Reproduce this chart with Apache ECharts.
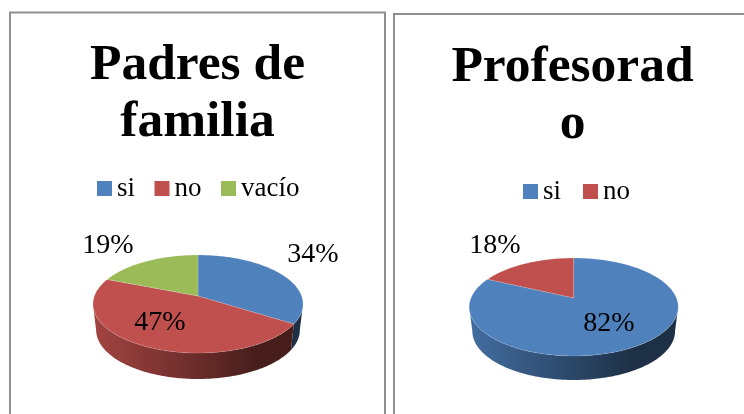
<!DOCTYPE html>
<html>
<head>
<meta charset="utf-8">
<style>html,body{margin:0;padding:0;background:#fff}#c{width:744px;height:414px}</style>
<script src="https://cdn.jsdelivr.net/npm/echarts@6/dist/echarts.min.js"></script>
</head>
<body>
<div id="c"></div>
<script>
var padresTitle = 'Padres de\nfamilia';
var padresCategories = ['si', 'no', 'vacío'];
var padresValues = [34, 47, 19];
var profesoradoTitle = 'Profesorad\no';
var profesoradoCategories = ['si', 'no'];
var profesoradoValues = [82, 18];
var sliceColors = {si: '#4f81bd', no: '#c0504d', 'vacío': '#9bbb59'};

var FONT = '"Liberation Serif", serif';
var padresLayout = {cx: 198, cy: 304, rx: 105, ry: 49, tilt: 8 / 49, depth: 26,
  labels: [[313, 255], [160, 323], [108, 246]]};
var profesoradoLayout = {cx: 573.7, cy: 307, rx: 104.5, ry: 49, tilt: 9 / 49, depth: 24,
  labels: [[609, 324], [495, 246]]};

function shade(hex, f) {
  var n = parseInt(hex.slice(1), 16);
  return 'rgb(' + Math.round((n >> 16) * f) + ',' + Math.round(((n >> 8) & 255) * f) + ',' + Math.round((n & 255) * f) + ')';
}
// Circle seen in perspective: unit-circle angle to a point of the drawn ellipse.
function project(theta, k) {
  var x = Math.sin(theta), y = Math.cos(theta), d = 1 + k * y;
  return [x * Math.sqrt(1 - k * k) / d, (y + k) / d];
}

function pieSeries(categories, values, L) {
  var total = values.reduce(function (a, b) { return a + b; }, 0);
  var acc = 0;
  return categories.map(function (name, i) {
    var startValue = acc;
    acc += values[i];
    var color = sliceColors[name];
    return {
      type: 'custom', name: name, coordinateSystem: 'none', silent: true, animation: false,
      itemStyle: {color: color},
      data: [[values[i]]],
      renderItem: function (params, api) {
        var v = api.value(0);
        var a0 = startValue / total * 2 * Math.PI, a1 = (startValue + v) / total * 2 * Math.PI;
        var steps = Math.max(2, Math.ceil((a1 - a0) / (Math.PI / 180)));
        var apex = [L.cx, L.cy - L.ry * L.tilt];
        var top = [apex], wallTop = [], wallBottom = [];
        for (var s = 0; s <= steps; s++) {
          var p = project(a0 + (a1 - a0) * s / steps, L.tilt);
          top.push([L.cx + L.rx * p[0], L.cy - L.ry * p[1]]);
          if (p[1] <= 0) {
            wallTop.push([L.cx + L.rx * p[0], L.cy - L.ry * p[1]]);
            wallBottom.unshift([L.cx + L.rx * 0.97 * p[0], L.cy + L.depth - L.ry * p[1]]);
          }
        }
        var children = [];
        if (wallTop.length > 1) {
          children.push({
            type: 'polygon', z2: 1,
            shape: {points: wallTop.concat(wallBottom)},
            style: {
              fill: new echarts.graphic.LinearGradient(L.cx - L.rx, 0, L.cx + L.rx, 0, [
                {offset: 0, color: shade(color, 0.85)},
                {offset: 0.5, color: shade(color, 0.55)},
                {offset: 0.78, color: shade(color, 0.37)},
                {offset: 1, color: shade(color, 0.37)}
              ], true)
            }
          });
        }
        children.push({type: 'polygon', z2: 2, shape: {points: top},
          style: {fill: color, stroke: 'rgba(255,255,255,0.25)', lineWidth: 0.6}});
        children.push({type: 'text', z2: 10, x: L.labels[i][0], y: L.labels[i][1],
          style: {text: v + '%', fill: '#000', font: '28px ' + FONT, align: 'center', verticalAlign: 'middle'}});
        return {type: 'group', children: children};
      }
    };
  });
}

function titleOf(text, x, top) {
  return {text: text, left: x, top: top, textAlign: 'center', padding: 0,
    textStyle: {fontFamily: FONT, fontWeight: 'bold', fontSize: 51.5, lineHeight: 57, color: '#000'}};
}
function legendOf(names, left, top, gap) {
  return {data: names, left: left, top: top, orient: 'horizontal', icon: 'rect', padding: 0,
    itemWidth: 15, itemHeight: 15, itemGap: gap, selectedMode: false,
    textStyle: {fontFamily: FONT, fontSize: 27, color: '#000'}};
}

var chart = echarts.init(document.getElementById('c'), null, {renderer: 'canvas'});
chart.setOption({
  backgroundColor: '#fff',
  animation: false,
  tooltip: {show: false},
  title: [titleOf(padresTitle, 197.5, 37), titleOf(profesoradoTitle, 572.5, 39)],
  legend: [legendOf(padresCategories, 97, 175, 19.5), legendOf(profesoradoCategories, 523, 178, 22)],
  graphic: [
    {type: 'rect', silent: true, shape: {x: 10, y: 12.5, width: 375, height: 600},
      style: {fill: 'none', stroke: '#8f8f8f', lineWidth: 2}},
    {type: 'rect', silent: true, shape: {x: 394, y: 14, width: 800, height: 600},
      style: {fill: 'none', stroke: '#8f8f8f', lineWidth: 2}}
  ],
  series: pieSeries(padresCategories, padresValues, padresLayout)
    .concat(pieSeries(profesoradoCategories, profesoradoValues, profesoradoLayout))
});
</script>
</body>
</html>
